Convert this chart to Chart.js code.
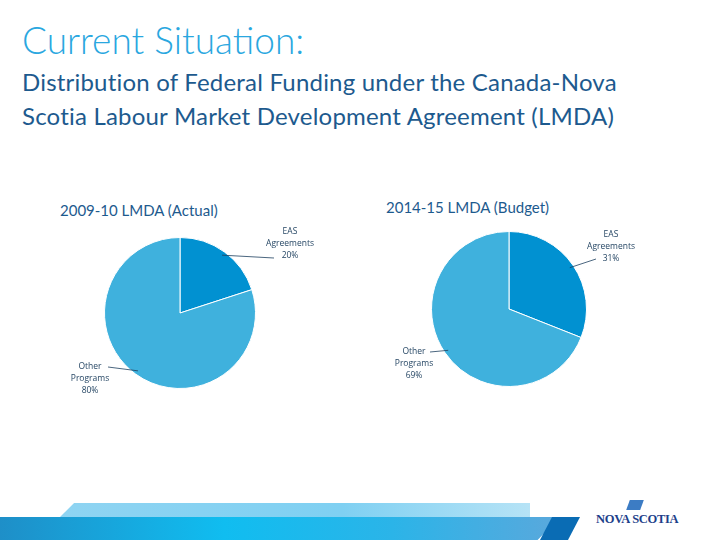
<!DOCTYPE html>
<html>
<head>
<meta charset="utf-8">
<script src="https://cdn.jsdelivr.net/npm/chart.js@4"></script>
<style>
  body { margin:0; width:720px; height:540px; position:relative; background:#fff; font-family:Lato, "Open Sans", sans-serif; overflow:hidden; }
  .abs { position:absolute; }
  #title { left:22px; top:17px; font-size:37px; color:#2aa7df; font-weight:300; }
  #sub { left:22px; top:65px; font-size:24px; line-height:34px; color:#1d5a8e; letter-spacing:0.2px; }
  .ptitle { font-size:15px; color:#1d5a8e; }
  canvas { position:absolute; }
  .bar { position:absolute; }
</style>
</head>
<body>
<div id="title" class="abs">Current Situation:</div>
<div id="sub" class="abs">Distribution of Federal Funding under the Canada-Nova<br>Scotia Labour Market Development Agreement (LMDA)</div>
<div class="abs ptitle" style="left:60px;top:201px">2009-10 LMDA (Actual)</div>
<div class="abs ptitle" style="left:386px;top:198px">2014-15 LMDA (Budget)</div>
<canvas id="c1" width="300" height="220" style="left:40px;top:200px;width:300px;height:220px"></canvas>
<canvas id="c2" width="300" height="220" style="left:370px;top:200px;width:300px;height:220px"></canvas>

<div class="bar" style="left:0;top:517px;width:560px;height:23px;background:linear-gradient(90deg,#1e8fc8,#10bdf0 40%,#2bb4e8 70%,#5aa8dc);clip-path:polygon(0 0,100% 0,96% 100%,0 100%)"></div>
<div class="bar" style="left:60px;top:503px;width:470px;height:14px;background:linear-gradient(90deg,#8fd4f2,#7fd0f2 60%,#b6e3f6);clip-path:polygon(3% 0,100% 0,100% 100%,0 100%)"></div>
<div class="bar" style="left:540px;top:517px;width:40px;height:23px;background:#0a6cb4;clip-path:polygon(30% 0,100% 0,70% 100%,0 100%)"></div>
<div class="abs" style="left:596px;top:512px;font-family:'Liberation Serif',serif;font-weight:bold;font-size:12.5px;color:#1d3f8a;letter-spacing:-0.3px">NOVA SCOTIA</div>
<div class="abs" style="left:628px;top:500px;width:14px;height:10px;background:#3c7cc4;transform:skewX(-20deg)"></div>

<script>
const categories = ['EAS Agreements', 'Other Programs'];
const actual0910 = [20, 80];
const budget1415 = [31, 69];
const pctLabels1 = ['20%', '80%'];
const pctLabels2 = ['31%', '69%'];
const colors = ['#0191d1', '#3fb1dd'];

// 引出线标签插件
const leaderLabels = {
  id: 'leaderLabels',
  afterDraw(chart, args, opts) {
    const ctx = chart.ctx;
    const meta = chart.getDatasetMeta(0);
    ctx.save();
    ctx.font = '8.5px "Open Sans", sans-serif';
    ctx.fillStyle = '#1d3f5e';
    ctx.strokeStyle = '#1d3f5e';
    ctx.lineWidth = 0.8;
    ctx.textAlign = 'center';
    ctx.textBaseline = 'middle';
    meta.data.forEach((arc, i) => {
      const p = opts.items[i];
      const mid = (arc.startAngle + arc.endAngle) / 2;
      const ex = arc.x + Math.cos(mid) * (arc.outerRadius - 4);
      const ey = arc.y + Math.sin(mid) * (arc.outerRadius - 4);
      ctx.beginPath();
      ctx.moveTo(ex, ey);
      ctx.lineTo(p.lx, p.ly);
      ctx.stroke();
      const lines = categories[i].split(' ').concat([opts.pct[i]]);
      lines.forEach((t, k) => ctx.fillText(t, p.tx, p.ty + k * 12));
    });
    ctx.restore();
  }
};

function makePie(id, values, pct, padding, items) {
  new Chart(document.getElementById(id), {
    type: 'pie',
    data: {
      labels: categories,
      datasets: [{ data: values, backgroundColor: colors, borderColor: '#ffffff', borderWidth: 1 }]
    },
    options: {
      responsive: false,
      animation: false,
      layout: { padding },
      plugins: { legend: { display: false }, tooltip: { enabled: false }, leaderLabels: { items, pct } }
    },
    plugins: [leaderLabels]
  });
}

makePie('c1', actual0910, pctLabels1, { left: 64, right: 84, top: 37, bottom: 31 }, [
  { lx: 234, ly: 58, tx: 250, ty: 32 },
  { lx: 68, ly: 167, tx: 50, ty: 167 }
]);
makePie('c2', budget1415, pctLabels2, { left: 61, right: 83, top: 31, bottom: 33 }, [
  { lx: 226, ly: 59, tx: 241, ty: 35 },
  { lx: 60, ly: 152, tx: 44, ty: 152 }
]);
</script>
</body>
</html>
